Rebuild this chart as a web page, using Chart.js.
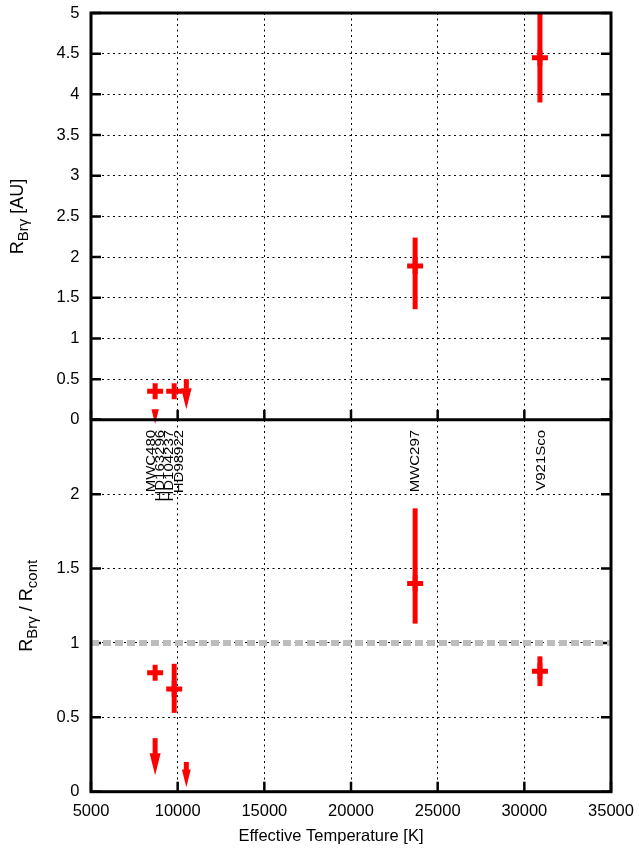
<!DOCTYPE html>
<html>
<head>
<meta charset="utf-8">
<script src="https://cdn.jsdelivr.net/npm/chart.js@4/dist/chart.umd.min.js"></script>
<style>
  html, body { margin: 0; padding: 0; background: #ffffff; }
  #wrap { position: relative; width: 639px; height: 853px; }
</style>
</head>
<body>
<div id="wrap"><canvas id="c" width="639" height="853"></canvas></div>
<script>
// Effective temperature axis (K)
const tempTicks = [5000, 10000, 15000, 20000, 25000, 30000, 35000];

// Upper panel: Br-gamma emitting radius (AU)
const sizeTemps  = [8700, 9800, 23700, 30900];
const sizeValues = [0.35, 0.35, 1.89, 4.45];
const sizeLow    = [0.35, 0.35, 1.36, 3.90];
const sizeHigh   = [0.35, 0.35, 2.24, 5.00];
const sizeTicks  = [0, 0.5, 1, 1.5, 2, 2.5, 3, 3.5, 4, 4.5, 5];
// upper limits: arrow from value down to tip
const sizeLimitTemps = [10500, 8700];
const sizeLimitFrom  = [0.50, 0.13];
const sizeLimitTo    = [0.13, -0.05];

// Lower panel: Br-gamma radius over continuum radius
const ratioTemps  = [8700, 9800, 23700, 30900];
const ratioValues = [0.80, 0.69, 1.40, 0.81];
const ratioLow    = [0.80, 0.53, 1.13, 0.71];
const ratioHigh   = [0.80, 0.86, 1.905, 0.91];
const ratioTicks  = [0, 0.5, 1, 1.5, 2, 2.5];
const ratioLimitTemps = [8700, 10500];
const ratioLimitFrom  = [0.36, 0.20];
const ratioLimitTo    = [0.11, 0.03];
const unityLevel = 1;

// Object names, placed at their temperatures
const starNames = ['MWC480', 'HD163296', 'HD104237', 'HD98922', 'MWC297', 'V921Sco'];
const starTemps = [8700, 9230, 9750, 10330, 23930, 31190];

const RED = '#ff0000';
const FONT = "'Liberation Sans', Arial, Helvetica, sans-serif";

function arrowDown(ctx, px, y0, y1) {
  const len = y1 - y0;
  const head = len < 20 ? len : Math.min(22, 0.7 * len);
  const hw = head * 0.25;
  ctx.fillStyle = RED;
  if (len - head > 0) ctx.fillRect(px - 2.5, y0, 5, len - head + 0.5);
  ctx.beginPath();
  ctx.moveTo(px - hw, y1 - head);
  ctx.lineTo(px + hw, y1 - head);
  ctx.lineTo(px, y1);
  ctx.closePath();
  ctx.fill();
}

// rotated (bottom-to-top) text made of runs with optional subscript shift
function rotatedRich(ctx, cx, cy, runs) {
  ctx.save();
  ctx.translate(cx, cy);
  ctx.rotate(-Math.PI / 2);
  ctx.textAlign = 'left';
  ctx.textBaseline = 'alphabetic';
  ctx.fillStyle = '#000';
  let total = 0;
  runs.forEach(r => { ctx.font = r.size + 'px ' + FONT; r.w = ctx.measureText(r.t).width; total += r.w; });
  let x = -total / 2;
  runs.forEach(r => { ctx.font = r.size + 'px ' + FONT; ctx.fillText(r.t, x, r.dy || 0); x += r.w; });
  ctx.restore();
}

const marksPlugin = {
  id: 'panelMarks',
  beforeDatasetsDraw(chart) {
    const { ctx, chartArea: a, scales: { x, yTop, yBot } } = chart;
    ctx.save();
    // inward tick marks (under the data)
    ctx.strokeStyle = '#000';
    ctx.lineWidth = 2.5;
    const tl = 10;
    [[yTop, sizeTicks], [yBot, ratioTicks]].forEach(([s, vals]) => {
      vals.forEach(v => {
        const py = s.getPixelForValue(v);
        ctx.beginPath();
        ctx.moveTo(a.left, py); ctx.lineTo(a.left + tl, py);
        ctx.moveTo(a.right, py); ctx.lineTo(a.right - tl, py);
        ctx.stroke();
      });
      tempTicks.forEach(t => {
        const px = x.getPixelForValue(t);
        ctx.beginPath();
        ctx.moveTo(px, s.bottom); ctx.lineTo(px, s.bottom - tl);
        ctx.stroke();
      });
    });

    // vertical error bars
    ctx.strokeStyle = RED;
    ctx.lineWidth = 5;
    ctx.lineCap = 'butt';
    const bars = (temps, lo, hi, ys) => temps.forEach((t, i) => {
      if (hi[i] <= lo[i]) return;
      const px = x.getPixelForValue(t);
      ctx.beginPath();
      ctx.moveTo(px, ys.getPixelForValue(lo[i]));
      ctx.lineTo(px, ys.getPixelForValue(hi[i]));
      ctx.stroke();
    });
    bars(sizeTemps, sizeLow, sizeHigh, yTop);
    bars(ratioTemps, ratioLow, ratioHigh, yBot);
    ctx.restore();
  },
  afterDatasetsDraw(chart) {
    const { ctx, chartArea: a, scales: { x, yTop, yBot } } = chart;
    ctx.save();
    // upper-limit arrows
    sizeLimitTemps.forEach((t, i) => arrowDown(ctx, x.getPixelForValue(t),
      yTop.getPixelForValue(sizeLimitFrom[i]), yTop.getPixelForValue(sizeLimitTo[i])));
    ratioLimitTemps.forEach((t, i) => arrowDown(ctx, x.getPixelForValue(t),
      yBot.getPixelForValue(ratioLimitFrom[i]), yBot.getPixelForValue(ratioLimitTo[i])));

    // frame and panel divider
    ctx.strokeStyle = '#000';
    ctx.lineWidth = 3;
    ctx.strokeRect(a.left, a.top, a.right - a.left, a.bottom - a.top);
    ctx.beginPath();
    ctx.moveTo(a.left, yTop.bottom);
    ctx.lineTo(a.right, yTop.bottom);
    ctx.stroke();

    // object names (narrow rotated lettering)
    ctx.fillStyle = '#000';
    ctx.font = '15px ' + FONT;
    starNames.forEach((n, i) => {
      ctx.save();
      ctx.translate(x.getPixelForValue(starTemps[i]), yBot.top + 10);
      ctx.rotate(-Math.PI / 2);
      ctx.scale(1, 0.85);
      ctx.textAlign = 'right';
      ctx.textBaseline = 'alphabetic';
      ctx.fillText(n, 0, 0);
      ctx.restore();
    });

    // axis titles
    const midTop = (yTop.top + yTop.bottom) / 2;
    const midBot = (yBot.top + yBot.bottom) / 2;
    rotatedRich(ctx, 23, midTop, [
      { t: 'R', size: 18 }, { t: 'Br\u03b3', size: 15, dy: 4.5 }, { t: ' [AU]', size: 18 }
    ]);
    rotatedRich(ctx, 32, midBot, [
      { t: 'R', size: 18 }, { t: 'Br\u03b3', size: 15, dy: 4.5 }, { t: ' / R', size: 18 },
      { t: 'cont', size: 15, dy: 4.5 }
    ]);
    ctx.font = '16.5px ' + FONT;
    ctx.textAlign = 'center';
    ctx.textBaseline = 'middle';
    ctx.fillText('Effective Temperature [K]', 331, 836);
    ctx.restore();
  }
};

const crossStyle = {
  pointStyle: 'cross', pointRadius: 8, borderWidth: 5,
  borderColor: RED, backgroundColor: RED
};
const gridOpts = { color: '#000000', lineWidth: 1, drawTicks: false };
const borderOpts = { display: false, dash: [2, 3.5] };
const tickFont = { family: FONT, size: 16.5 };

new Chart(document.getElementById('c'), {
  type: 'scatter',
  data: {
    datasets: [
      Object.assign({ data: sizeTemps.map((t, i) => ({ x: t, y: sizeValues[i] })), yAxisID: 'yTop' }, crossStyle),
      Object.assign({ data: ratioTemps.map((t, i) => ({ x: t, y: ratioValues[i] })), yAxisID: 'yBot' }, crossStyle),
      {
        data: [{ x: tempTicks[0], y: unityLevel }, { x: tempTicks[tempTicks.length - 1], y: unityLevel }],
        yAxisID: 'yBot', showLine: true, pointRadius: 0,
        borderColor: '#bdbdbd', borderWidth: 6, borderDash: [8, 4], fill: false
      }
    ]
  },
  options: {
    responsive: false,
    animation: false,
    events: [],
    layout: { padding: { top: 8.5, right: 28, left: 0, bottom: 0 } },
    plugins: { legend: { display: false }, tooltip: { enabled: false } },
    scales: {
      x: {
        type: 'linear', position: 'bottom', min: tempTicks[0], max: tempTicks[tempTicks.length - 1],
        afterBuildTicks(s) { s.ticks = tempTicks.map(v => ({ value: v })); },
        ticks: { color: '#000', font: tickFont, padding: 9.4, maxRotation: 0, autoSkip: false, callback: v => String(v) },
        grid: gridOpts, border: borderOpts,
        afterFit(s) { s.height = 61.3; s.paddingLeft = 0; s.paddingRight = 0; }
      },
      yTop: {
        type: 'linear', position: 'left', stack: 'panels', stackWeight: 409.2, weight: 2,
        min: 0, max: 5,
        afterBuildTicks(s) { s.ticks = sizeTicks.map(v => ({ value: v })); },
        ticks: { color: '#000', font: tickFont, padding: 11.5, autoSkip: false, callback: v => String(v) },
        grid: gridOpts, border: borderOpts,
        afterFit(s) { s.width = 91; s.paddingTop = 0; s.paddingBottom = 0; }
      },
      yBot: {
        type: 'linear', position: 'left', stack: 'panels', stackWeight: 374, weight: 1,
        min: 0, max: 2.5,
        afterBuildTicks(s) { s.ticks = ratioTicks.map(v => ({ value: v })); },
        ticks: { color: '#000', font: tickFont, padding: 11.5, autoSkip: false, callback: v => (v >= 2.5 ? '' : String(v)) },
        grid: gridOpts, border: borderOpts,
        afterFit(s) { s.width = 91; s.paddingTop = 0; s.paddingBottom = 0; }
      }
    }
  },
  plugins: [marksPlugin]
});
</script>
</body>
</html>
